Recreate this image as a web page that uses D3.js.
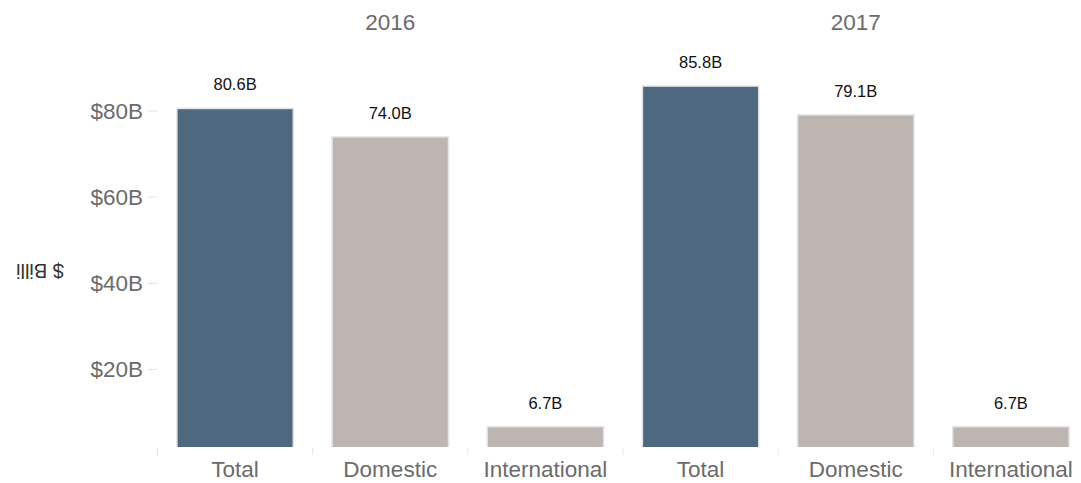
<!DOCTYPE html>
<html lang="en">
<head>
  <meta charset="UTF-8">
  <title>Revenue by year</title>
  <script src="https://d3js.org/d3.v7.min.js"></script>
  <style>
    body { margin: 0; background: #fff; font-family: "Liberation Sans", Arial, sans-serif; }
    svg { display: block; }
  </style>
</head>
<body>
  <div id="chart"></div>
  <script>
  // values ($ billions)
  const years = ["2016", "2017"];
  const categories = ["Total", "Domestic", "International"];
  const values2016 = [80.6, 74.0, 6.7];
  const values2017 = [85.8, 79.1, 6.7];
  const yTicks = [20, 40, 60, 80];

  const width = 1081, height = 483;
  const svg = d3.select("#chart").append("svg").attr("width", width).attr("height", height);

  const rows = [];
  years.forEach((yr, i) => {
    const vals = i === 0 ? values2016 : values2017;
    categories.forEach((c, j) => rows.push({ year: yr, cat: c, value: vals[j], key: yr + "|" + c }));
  });

  const paneBottom = 447;
  const x = d3.scaleBand().domain(rows.map(d => d.key)).range([157.5, 1088.5])
    .paddingInner(0.25).paddingOuter(0.125);
  const y = d3.scaleLinear().domain([0, 100]).range([455.6, 455.6 - 430.7]);

  const color = d => d.cat === "Total" ? "#4e6880" : "#bdb5b2";

  svg.append("clipPath").attr("id", "pane")
    .append("rect").attr("x", 150).attr("y", 0).attr("width", 940).attr("height", paneBottom);

  // bars
  svg.append("g").attr("clip-path", "url(#pane)")
    .selectAll("rect").data(rows).enter().append("rect")
    .attr("x", d => x(d.key))
    .attr("y", d => y(d.value))
    .attr("width", x.bandwidth())
    .attr("height", d => y(0) - y(d.value) + 5)
    .attr("fill", color)
    .attr("stroke", "#e4e4e4")
    .attr("stroke-width", 1.5);

  // value labels
  svg.append("g").selectAll("text").data(rows).enter().append("text")
    .attr("x", d => x(d.key) + x.bandwidth() / 2)
    .attr("y", d => y(d.value) - 18)
    .attr("text-anchor", "middle")
    .attr("font-size", 16.5)
    .attr("fill", "#111")
    .text(d => d.value.toFixed(1) + "B");

  // category labels
  svg.append("g").selectAll("text").data(rows).enter().append("text")
    .attr("x", d => x(d.key) + x.bandwidth() / 2)
    .attr("y", 477)
    .attr("text-anchor", "middle")
    .attr("font-size", 22.5)
    .attr("fill", "#6b6b6b")
    .text(d => d.cat);

  // separators under categories
  const step = x.step();
  const seps = rows.map(d => x(d.key) - step * 0.125).concat([x(rows[rows.length - 1].key) + x.bandwidth() + step * 0.125]);
  svg.append("g").selectAll("line").data(seps).enter().append("line")
    .attr("x1", d => d).attr("x2", d => d)
    .attr("y1", paneBottom + 1).attr("y2", 455)
    .attr("stroke", "#e6e6e6").attr("stroke-width", 1);

  // year headers
  years.forEach(yr => {
    const ks = rows.filter(d => d.year === yr).map(d => d.key);
    const cx = (x(ks[0]) + x(ks[ks.length - 1]) + x.bandwidth()) / 2;
    svg.append("text")
      .attr("x", cx).attr("y", 29.5)
      .attr("text-anchor", "middle")
      .attr("font-size", 22.5)
      .attr("fill", "#6b6b6b")
      .text(yr);
  });

  // y axis
  const yAxis = svg.append("g");
  yAxis.selectAll("text").data(yTicks).enter().append("text")
    .attr("x", 143).attr("y", d => y(d))
    .attr("dy", "0.35em")
    .attr("text-anchor", "end")
    .attr("font-size", 22.5)
    .attr("fill", "#6b6b6b")
    .text(d => "$" + d + "B");
  yAxis.selectAll("line").data(yTicks).enter().append("line")
    .attr("x1", 148).attr("x2", 157)
    .attr("y1", d => y(d)).attr("y2", d => y(d))
    .attr("stroke", "#e3e3e3");

  // axis title (drawn upside down as in the original)
  svg.append("text")
    .attr("transform", "translate(40,271) rotate(180)")
    .attr("text-anchor", "middle")
    .attr("dy", "0.35em")
    .attr("font-size", 20)
    .attr("fill", "#333")
    .text("$ Billi");
  </script>
</body>
</html>
